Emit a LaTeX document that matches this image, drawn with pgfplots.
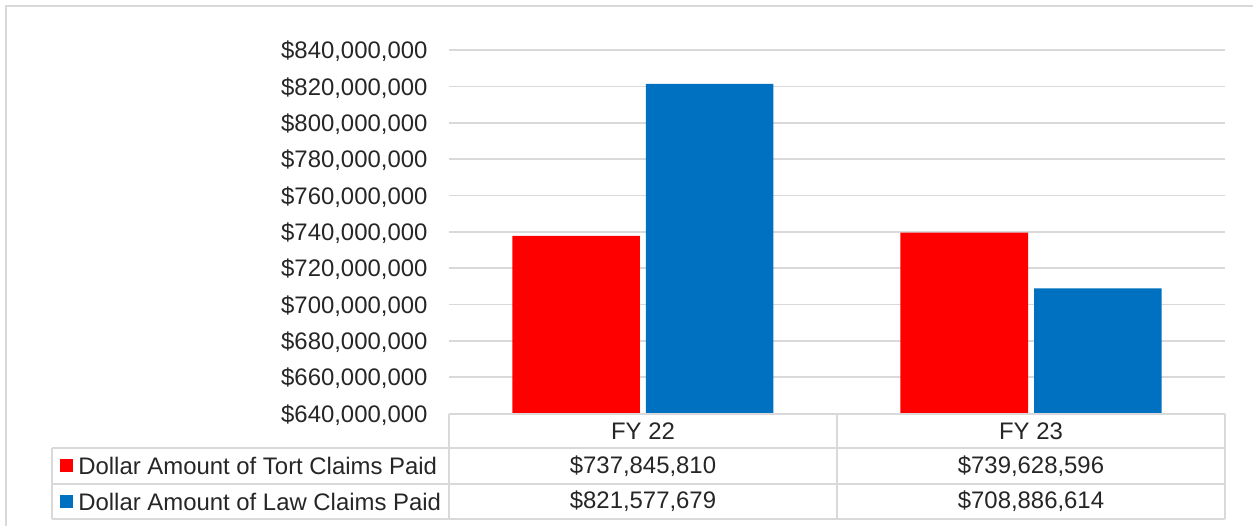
\documentclass[border=0pt]{standalone}
\usepackage{pgfplots}
\pgfplotsset{compat=1.18}
\usepackage{fontspec}
\setmainfont{Liberation Sans}
\definecolor{gridc}{HTML}{D9D9D9}
\definecolor{txt}{HTML}{262626}
\definecolor{tort}{HTML}{FF0000}
\definecolor{law}{HTML}{0070C0}
\begin{document}
\begin{tikzpicture}[font=\fontsize{11.95}{14}\selectfont, text=txt]
\begin{axis}[name=ax, at={(0,0)}, anchor=south west,
  scale only axis, width=388pt, height=181.65pt,
  xmin=-0.5, xmax=1.5, ymin=640000000, ymax=840000000,
  scaled y ticks=false,
  ybar=3pt, bar width=63.75pt,
  axis line style={draw=none},
  major tick length=0pt,
  xtick={0,1}, xticklabels={FY 22, FY 23},
  xtick style={draw=none},
  xticklabel style={anchor=center, yshift=-8.7pt, inner sep=0pt},
  ytick={640000000,660000000,680000000,700000000,720000000,740000000,760000000,780000000,800000000,820000000,840000000},
  yticklabels={{\$640,000,000},{\$660,000,000},{\$680,000,000},{\$700,000,000},{\$720,000,000},{\$740,000,000},{\$760,000,000},{\$780,000,000},{\$800,000,000},{\$820,000,000},{\$840,000,000}},
  ytick style={draw=none},
  yticklabel style={anchor=east, inner sep=0pt, xshift=-10.6pt, yshift=-0.6pt},
  ymajorgrids, grid style={gridc, line width=0.85pt},
]
\addplot[fill=tort, draw=none] coordinates {(0,737845810) (1,739628596)};
\addplot[fill=law, draw=none] coordinates {(0,821577679) (1,708886614)};
\end{axis}
\begin{scope}[shift={(ax.south west)}]
  \draw[gridc, line width=0.9pt] (0pt,0pt) -- (388pt,0pt);
  \draw[gridc, line width=0.9pt] (-198.5pt,-17.2pt) -- (388pt,-17.2pt);
  \draw[gridc, line width=0.9pt] (-198.5pt,-35.2pt) -- (388pt,-35.2pt);
  \draw[gridc, line width=0.9pt] (-198.5pt,-52.7pt) -- (388pt,-52.7pt);
  \draw[gridc, line width=0.9pt] (0pt,0pt) -- (0pt,-52.7pt);
  \draw[gridc, line width=0.9pt] (194pt,0pt) -- (194pt,-52.7pt);
  \draw[gridc, line width=0.9pt] (388pt,0pt) -- (388pt,-52.7pt);
  \draw[gridc, line width=0.9pt] (-198.5pt,-17.2pt) -- (-198.5pt,-52.7pt);
  \fill[tort] (-194.5pt,-29.2pt) rectangle (-188pt,-22.7pt);
  \fill[law] (-194.5pt,-47.2pt) rectangle (-188pt,-40.7pt);
  \node[anchor=west, inner sep=0pt] at (-185.5pt,-26.2pt) {Dollar Amount of Tort Claims Paid};
  \node[anchor=west, inner sep=0pt] at (-185.5pt,-43.95pt) {Dollar Amount of Law Claims Paid};
  \node[inner sep=0pt] at (97pt,-26.2pt) {\$737,845,810};
  \node[inner sep=0pt] at (291pt,-26.2pt) {\$739,628,596};
  \node[inner sep=0pt] at (97pt,-43.95pt) {\$821,577,679};
  \node[inner sep=0pt] at (291pt,-43.95pt) {\$708,886,614};
  \draw[gridc, line width=1pt] (-221.5pt,-60pt) -- (-221.5pt,203.8pt) -- (410pt,203.8pt);
  \pgfresetboundingbox
  \useasboundingbox (-224.5pt,206.8pt) rectangle (402pt,-55.7pt);
\end{scope}
\end{tikzpicture}
\end{document}
